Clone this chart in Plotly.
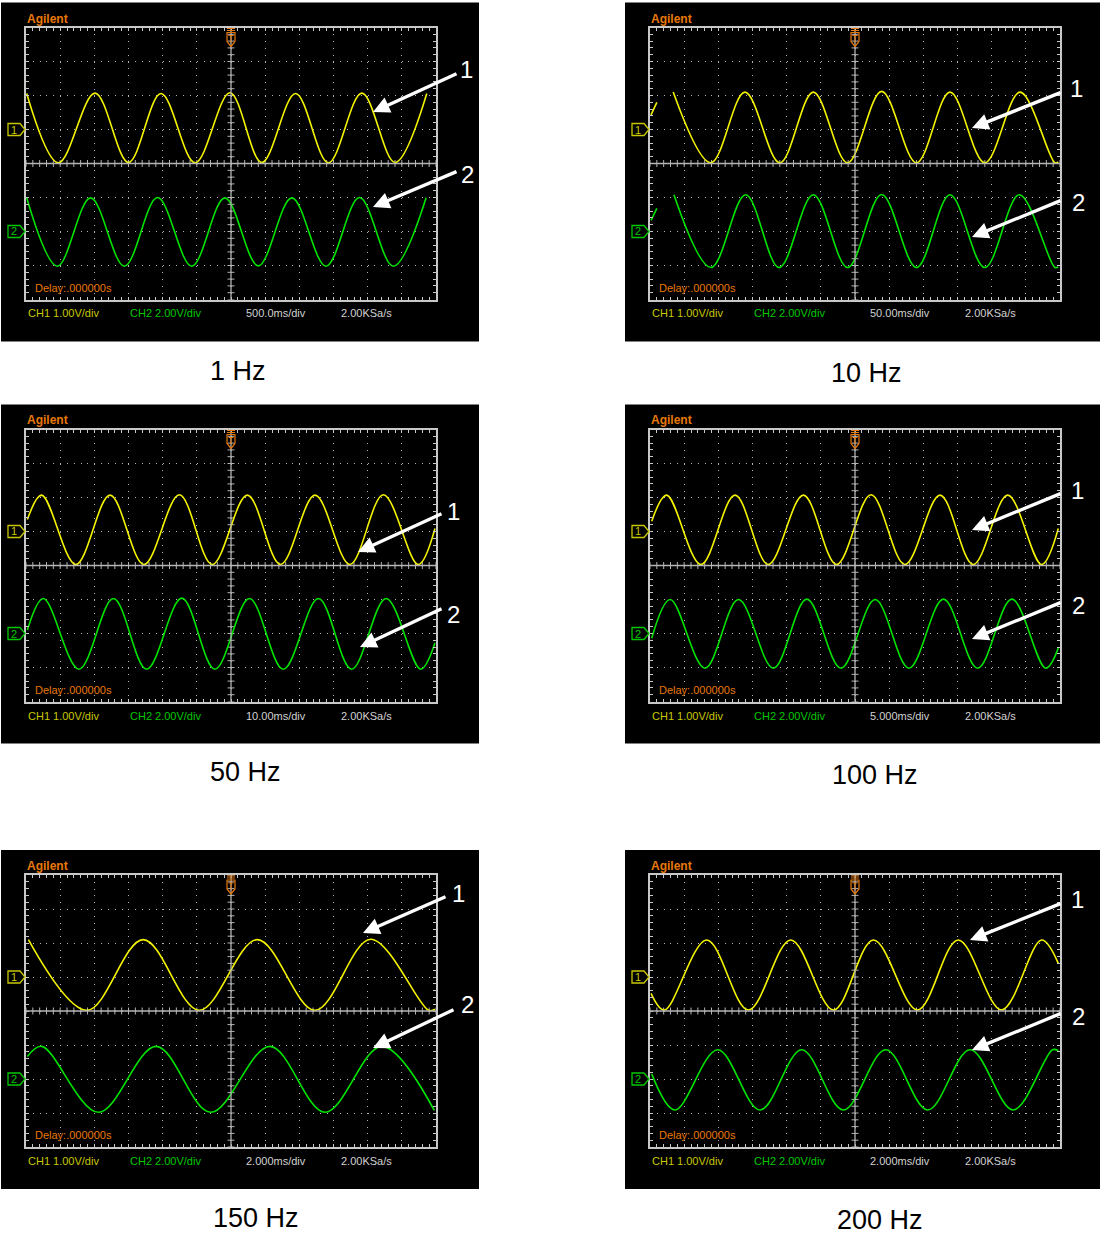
import numpy as np
import plotly.graph_objects as go

W, H = 1100, 1234

FREQ_LABELS = ["1 Hz", "10 Hz", "50 Hz", "100 Hz", "150 Hz", "200 Hz"]
TIME_PER_DIV_MS = [500.0, 50.0, 10.0, 5.0, 2.0, 2.0]
TIME_PER_DIV_TEXT = ["500.0ms/div", "50.00ms/div", "10.00ms/div",
                     "5.000ms/div", "2.000ms/div", "2.000ms/div"]
CH1_V_PER_DIV = 1.0
CH2_V_PER_DIV = 2.0
CH1_OFFSET_DIV = 1.0     # ground marker of CH1, divisions above centre
CH2_OFFSET_DIV = -2.0    # ground marker of CH2, divisions above centre
CH1_TEXT = "CH1 1.00V/div"
CH2_TEXT = "CH2 2.00V/div"
SAMPLE_RATE_TEXT = "2.00KSa/s"
DELAY_TEXT = "Delay:.000000s"
BRAND_TEXT = "Agilent"

# Key points (extrema and record ends) of every trace: time in ms, voltage in V.
# None marks a gap in the captured record.
P1_CH1_T = [-2990, -2525, -1990, -1500, -1025, -525, -15, 450, 945, 1425, 1915, 2400, 2865]
P1_CH1_V = [1.06, -0.98, 1.07, -0.97, 1.06, -0.98, 1.08, -0.97, 1.06, -0.98, 1.07, -0.97, 1.06]
P1_CH2_T = [-2990, -2540, -2055, -1560, -1075, -575, -90, 400, 890, 1390, 1880, 2375, 2855]
P1_CH2_V = [1.98, -2.04, 1.98, -2.04, 2.0, -2.04, 1.98, -2.02, 1.98, -2.04, 2.0, -2.04, 1.98]

P2_CH1_T = [-298.5, -290, None, -266, -211, -161, -110, -61, -11, 39, 90, 139, 190, 241.5, 292.5, 297.5]
P2_CH1_V = [0.43, 0.8, None, 1.1, -0.98, 1.1, -0.98, 1.1, -0.98, 1.12, -0.98, 1.1, -0.98, 1.1, -0.98, -0.95]
P2_CH2_T = [-298.5, -290, None, -265, -210.75, -160, -111, -61, -10.75, 39, 90, 139, 190, 240.5, 292.5, 297.5]
P2_CH2_V = [0.66, 1.36, None, 2.16, -2.12, 2.16, -2.12, 2.16, -2.12, 2.18, -2.12, 2.16, -2.12, 2.16, -2.12, -2.08]

P3_CH1_T = [-59.6, -55.4, -45.4, -35.4, -25.5, -15.1, -5.5, 4.8, 14.5, 24.6, 34.8, 44.6, 54.8, 59.7]
P3_CH1_V = [0.35, 1.07, -0.97, 1.07, -0.97, 1.08, -0.97, 1.07, -0.97, 1.07, -0.97, 1.08, -0.97, 0.09]
P3_CH2_T = [-59.6, -54.9, -44.5, -34.4, -24.7, -14.4, -4.7, 5.4, 15.3, 25.6, 35.3, 45.4, 55.5, 59.7]
P3_CH2_V = [0.2, 2.06, -2.1, 2.06, -2.1, 2.08, -2.1, 2.06, -2.1, 2.06, -2.1, 2.06, -2.1, -0.55]

P4_CH1_T = [-29.75, -27.55, -22.55, -17.55, -12.7, -7.55, -2.7, 2.35, 7.3, 12.45, 17.3, 22.35, 27.3, 29.75]
P4_CH1_V = [0.3, 1.07, -0.97, 1.07, -0.97, 1.07, -0.97, 1.08, -0.97, 1.07, -0.97, 1.07, -0.97, 0.09]
P4_CH2_T = [-29.75, -27.05, -21.95, -17.05, -11.95, -7.05, -2.05, 2.95, 7.9, 12.95, 17.95, 22.95, 27.9, 29.75]
P4_CH2_V = [-0.28, 2.0, -2.04, 2.0, -2.04, 2.02, -2.04, 2.0, -2.04, 2.02, -2.04, 2.02, -2.04, -0.86]

P5_CH1_T = [-11.86, -8.42, -5.14, -1.86, 1.54, 4.92, 8.18, 11.56, 11.94]
P5_CH1_V = [1.1, -0.98, 1.1, -0.98, 1.1, -0.98, 1.11, -0.98, -0.95]
P5_CH2_T = [-11.92, -11.08, -7.76, -4.38, -1.2, 2.28, 5.5, 8.82, 11.9]
P5_CH2_V = [1.32, 1.92, -1.96, 1.92, -1.96, 1.92, -1.96, 1.92, -1.85]

P6_CH1_T = [-11.94, -11.16, -8.68, -6.24, -3.76, -1.26, 1.08, 3.66, 6.04, 8.58, 10.92, 11.9]
P6_CH1_V = [-0.48, -0.97, 1.09, -0.97, 1.09, -0.97, 1.09, -0.97, 1.09, -0.97, 1.09, 0.4]
P6_CH2_T = [-11.9, -10.54, -8.04, -5.56, -3.12, -0.68, 1.8, 4.26, 6.74, 9.26, 11.56, 11.9]
P6_CH2_V = [0.3, -1.82, 1.72, -1.82, 1.72, -1.82, 1.72, -1.82, 1.72, -1.82, 1.72, 1.66]

CH1_T = [P1_CH1_T, P2_CH1_T, P3_CH1_T, P4_CH1_T, P5_CH1_T, P6_CH1_T]
CH1_V = [P1_CH1_V, P2_CH1_V, P3_CH1_V, P4_CH1_V, P5_CH1_V, P6_CH1_V]
CH2_T = [P1_CH2_T, P2_CH2_T, P3_CH2_T, P4_CH2_T, P5_CH2_T, P6_CH2_T]
CH2_V = [P1_CH2_V, P2_CH2_V, P3_CH2_V, P4_CH2_V, P5_CH2_V, P6_CH2_V]

# ---------------- layout (pixels) ----------------
GRID = [(26, 27.5), (650, 27.5), (26, 429.5), (650, 429.5), (26, 875), (650, 875)]
GW, GH = 410, 272
LABEL_POS = [(238, 371), (866, 373), (245, 772), (875, 775), (256, 1218), (880, 1220)]
# arrows: (head x, head y, tail x, tail y, label x, label y)
ARROWS = [
    [(373, 112, 458, 73, 466, 70), (373, 207, 458, 171, 467, 174)],
    [(972, 128, 1062, 92, 1076, 88), (972, 237, 1062, 200, 1078, 203)],
    [(358, 552, 443, 513, 453, 511), (360, 647, 443, 608, 453, 614)],
    [(972, 530, 1062, 493, 1077, 490), (972, 639, 1062, 602, 1078, 605)],
    [(363, 933, 447, 896, 458, 893), (373, 1048, 455, 1009, 467, 1004)],
    [(970, 940, 1062, 903, 1077, 899), (972, 1050, 1062, 1013, 1078, 1016)],
]

FONT = "Liberation Sans, Arial, sans-serif"
YELLOW = "#F4F400"
GREEN = "#00E400"
CH1_TXT_COL = "#C8C800"
CH2_TXT_COL = "#00C800"
ORANGE = "#E87808"
GRAY = "#B4B4B4"
BORDER = "#C8C8C8"


def PX(x):
    return x / W


def PY(y):
    return 1 - y / H


def path(pts, close=True):
    s = "M " + " L ".join(f"{PX(x):.5f},{PY(y):.5f}" for x, y in pts)
    return s + (" Z" if close else "")


fig = go.Figure()
layout = {}
shapes = []
annos = []

for i in range(6):
    gl, gt = GRID[i]
    gr, gb = gl + GW, gt + GH
    td = TIME_PER_DIV_MS[i]
    xn = "x" if i == 0 else f"x{i + 1}"
    y1n = "y" if i == 0 else f"y{2 * i + 1}"
    y2n = f"y{2 * i + 2}"
    xkey = "xaxis" if i == 0 else f"xaxis{i + 1}"
    y1key = "yaxis" if i == 0 else f"yaxis{2 * i + 1}"
    y2key = f"yaxis{2 * i + 2}"

    # black screen
    shapes.append(dict(type="rect", xref="paper", yref="paper", layer="below",
                       x0=PX(gl - 25), x1=PX(min(gl + 453, W)), y0=PY(gt + 314), y1=PY(gt - 25),
                       fillcolor="black", line=dict(width=0)))

    common = dict(showline=True, linecolor=BORDER, linewidth=2, mirror="allticks",
                  ticks="inside", ticklen=3, tickwidth=1, tickcolor=BORDER,
                  showticklabels=False, zeroline=False, showgrid=True,
                  gridcolor=GRAY, gridwidth=1, fixedrange=True)
    layout[xkey] = dict(common, domain=[PX(gl), PX(gr)], anchor=y1n,
                        range=[-6 * td, 6 * td], tick0=0, dtick=td,
                        griddash="1px,5.8px",
                        minor=dict(dtick=td / 5, ticks="inside", ticklen=3,
                                   tickcolor=BORDER, showgrid=False))
    layout[y1key] = dict(common, domain=[PY(gb), PY(gt)], anchor=xn,
                         range=[(-4 - CH1_OFFSET_DIV) * CH1_V_PER_DIV, (4 - CH1_OFFSET_DIV) * CH1_V_PER_DIV],
                         tick0=0, dtick=CH1_V_PER_DIV, griddash="1px,5.83px",
                         minor=dict(dtick=CH1_V_PER_DIV / 5, ticks="inside", ticklen=3,
                                    tickcolor=BORDER, showgrid=False))
    layout[y2key] = dict(overlaying=y1n, anchor=xn, visible=False, fixedrange=True,
                         range=[(-4 - CH2_OFFSET_DIV) * CH2_V_PER_DIV, (4 - CH2_OFFSET_DIV) * CH2_V_PER_DIV])

    # centre cross
    shapes.append(dict(type="line", xref=f"{xn} domain", yref=f"{y1n} domain",
                       x0=0, x1=1, y0=0.5, y1=0.5, line=dict(color=GRAY, width=1.3)))
    shapes.append(dict(type="line", xref=f"{xn} domain", yref=f"{y1n} domain",
                       x0=0.5, x1=0.5, y0=0, y1=1, line=dict(color=GRAY, width=1.3)))
    vc = -CH1_OFFSET_DIV * CH1_V_PER_DIV
    xt = np.arange(-6, 6.001, 0.2) * td
    fig.add_trace(go.Scatter(x=xt, y=np.full(xt.shape, vc), xaxis=xn, yaxis=y1n, mode="markers",
                             marker=dict(symbol="line-ns", size=5, line=dict(width=1, color=GRAY)),
                             hoverinfo="skip", showlegend=False))
    yt = np.arange(-4, 4.001, 0.2) * CH1_V_PER_DIV + vc
    fig.add_trace(go.Scatter(x=np.zeros(yt.shape), y=yt, xaxis=xn, yaxis=y1n, mode="markers",
                             marker=dict(symbol="line-ew", size=5, line=dict(width=1, color=GRAY)),
                             hoverinfo="skip", showlegend=False))

    # traces
    fig.add_trace(go.Scatter(x=CH1_T[i], y=CH1_V[i], xaxis=xn, yaxis=y1n, mode="lines",
                             line=dict(color=YELLOW, width=1.6, shape="spline", smoothing=1),
                             connectgaps=False, hoverinfo="skip", showlegend=False))
    fig.add_trace(go.Scatter(x=CH2_T[i], y=CH2_V[i], xaxis=xn, yaxis=y2n, mode="lines",
                             line=dict(color=GREEN, width=1.6, shape="spline", smoothing=1),
                             connectgaps=False, hoverinfo="skip", showlegend=False))

    # trigger marker
    cx = gl + GW / 2
    shapes.append(dict(type="path", xref="paper", yref="paper",
                       path=path([(cx - 4, gt + 5), (cx + 4, gt + 5), (cx + 4, gt + 14), (cx, gt + 19), (cx - 4, gt + 14)]),
                       line=dict(color=ORANGE, width=1.2)))
    shapes.append(dict(type="path", xref="paper", yref="paper",
                       path=path([(cx - 4, gt + 1), (cx + 4, gt + 1)], False) + " " +
                       path([(cx - 4, gt + 3), (cx + 4, gt + 3)], False) + " " +
                       path([(cx - 2.5, gt + 8), (cx + 2.5, gt + 8)], False) + " " +
                       path([(cx, gt + 8), (cx, gt + 15)], False),
                       line=dict(color=ORANGE, width=1)))

    # channel ground markers
    for off, col, lab in [(CH1_OFFSET_DIV, CH1_TXT_COL, "1"), (CH2_OFFSET_DIV, CH2_TXT_COL, "2")]:
        yc = gt + (4 - off) * GH / 8
        shapes.append(dict(type="path", xref="paper", yref="paper",
                           path=path([(gl - 18, yc - 6), (gl - 6, yc - 6), (gl - 1, yc), (gl - 6, yc + 6), (gl - 18, yc + 6)]),
                           line=dict(color=col, width=1.3)))
        annos.append(dict(x=PX(gl - 12), y=PY(yc), xref="paper", yref="paper", text=lab,
                          showarrow=False, font=dict(family=FONT, size=11, color=col),
                          xanchor="center", yanchor="middle"))

    # screen texts
    def txt(x, y, s, col, size=11, bold=False):
        annos.append(dict(x=PX(x), y=PY(y), xref="paper", yref="paper",
                          text=f"<b>{s}</b>" if bold else s, showarrow=False,
                          font=dict(family=FONT, size=size, color=col),
                          xanchor="left", yanchor="middle"))

    txt(gl - 1, gt - 9, BRAND_TEXT, ORANGE, 12, True)
    txt(gl + 7, gb - 12, DELAY_TEXT, ORANGE)
    txt(gl, gb + 14, CH1_TEXT, CH1_TXT_COL)
    txt(gl + 102, gb + 14, CH2_TEXT, CH2_TXT_COL)
    txt(gl + 218, gb + 14, TIME_PER_DIV_TEXT[i], "#D2D2D2")
    txt(gl + 313, gb + 14, SAMPLE_RATE_TEXT, "#D2D2D2")

    # arrows with labels
    for k, (hx, hy, tx, ty, lx, ly) in enumerate(ARROWS[i]):
        annos.append(dict(x=PX(hx), y=PY(hy), xref="paper", yref="paper", text="",
                          showarrow=True, ax=tx - hx, ay=ty - hy, axref="pixel", ayref="pixel",
                          arrowhead=2, arrowsize=1.0, arrowwidth=3.3, arrowcolor="white", standoff=0))
        annos.append(dict(x=PX(lx), y=PY(ly), xref="paper", yref="paper", text=str(k + 1),
                          showarrow=False, font=dict(family=FONT, size=24, color="white"),
                          xanchor="center", yanchor="middle"))

    # frequency caption
    lx, ly = LABEL_POS[i]
    annos.append(dict(x=PX(lx), y=PY(ly), xref="paper", yref="paper", text=FREQ_LABELS[i],
                      showarrow=False, font=dict(family=FONT, size=27, color="black"),
                      xanchor="center", yanchor="middle"))

fig.update_layout(width=W, height=H, margin=dict(l=0, r=0, t=0, b=0),
                  paper_bgcolor="white", plot_bgcolor="black",
                  showlegend=False, hovermode=False,
                  shapes=shapes, annotations=annos, **layout)

fig.write_html("out.html", config={"displayModeBar": False},
               post_script="document.body.style.margin='0';document.body.style.overflow='hidden';")
